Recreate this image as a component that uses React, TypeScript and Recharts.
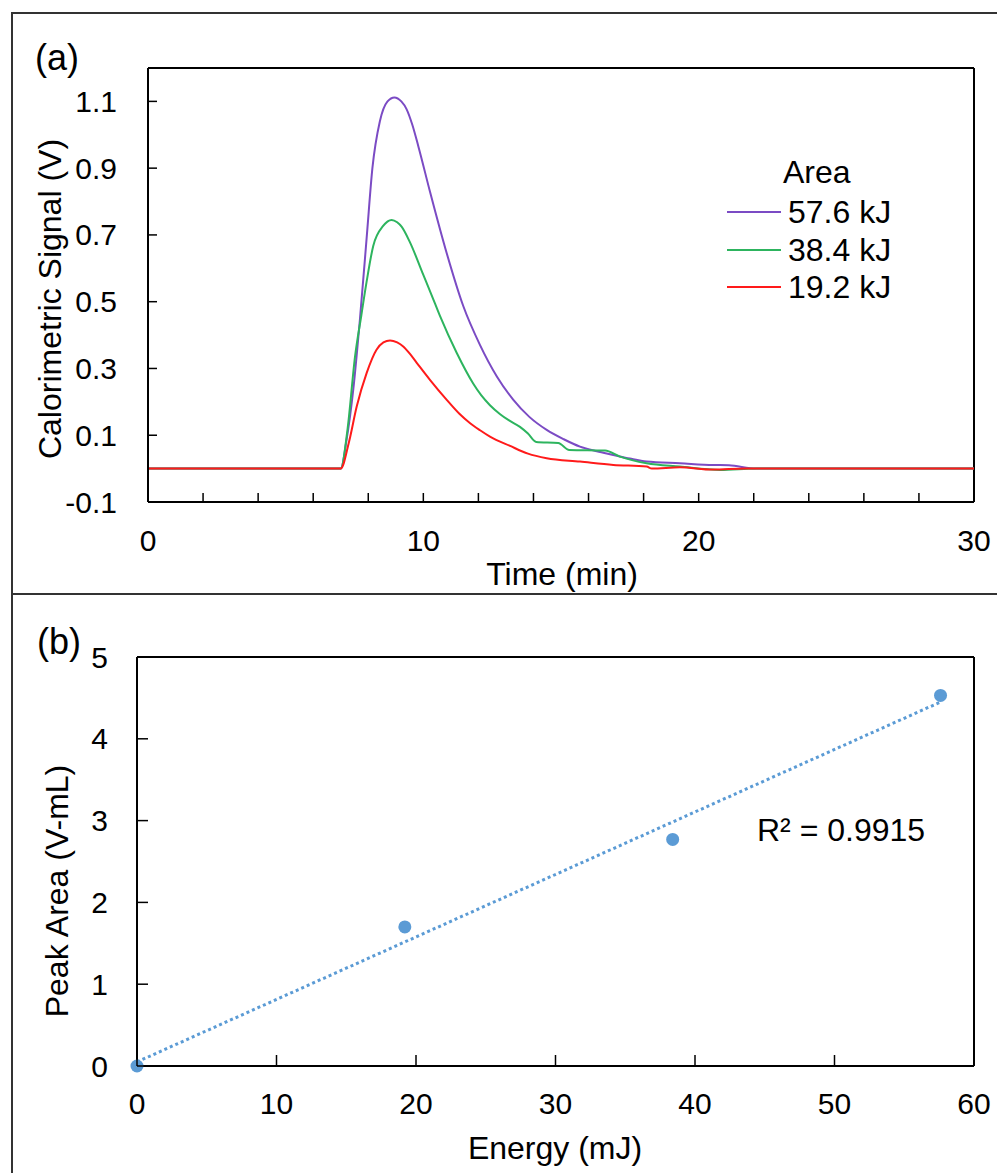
import React from 'react';
import { LineChart, Line, XAxis, YAxis, ReferenceLine, ScatterChart, Scatter } from 'recharts';

const FONT = '"Liberation Sans", Arial, Helvetica, sans-serif';

// ---------- Panel (a): calorimetric signal vs time ----------
const timeTicks = [0, 2, 4, 6, 8, 10, 12, 14, 16, 18, 20, 22, 24, 26, 28, 30];
const timeLabelTicks = [0, 10, 20, 30];
const signalTicks = [-0.1, 0.1, 0.3, 0.5, 0.7, 0.9, 1.1];
const legendTitle = 'Area';
const seriesNames = ['57.6 kJ', '38.4 kJ', '19.2 kJ'];
const seriesColors = ['#7B4BC4', '#2DB45E', '#FF1A1A'];

// [time (min), signal (V)]
const signal576: number[][] = [
  [0, 0], [7.0, 0], [7.2, 0.08], [7.46, 0.24], [7.7, 0.45], [7.95, 0.7], [8.15, 0.9], [8.42, 1.04],
  [8.7, 1.1], [8.95, 1.112], [9.2, 1.1], [9.39, 1.077], [9.6, 1.03], [9.82, 0.965], [10.24, 0.83],
  [10.85, 0.645], [11.45, 0.487], [12.06, 0.37], [12.67, 0.276], [13.27, 0.206], [13.85, 0.155],
  [14.48, 0.116], [15.1, 0.088], [15.69, 0.066], [16.3, 0.052], [16.9, 0.041], [17.5, 0.03],
  [18.11, 0.021], [19.32, 0.016], [20.53, 0.011], [21.1, 0.01], [22.1, 0], [30, 0],
];
const signal384: number[][] = [
  [0, 0], [7.0, 0], [7.25, 0.12], [7.52, 0.336], [7.75, 0.46], [7.94, 0.56], [8.18, 0.667],
  [8.54, 0.727], [8.85, 0.745], [9.05, 0.738], [9.21, 0.725], [9.52, 0.677], [10.0, 0.58],
  [10.3, 0.52], [10.6, 0.458], [11.21, 0.347], [11.81, 0.255], [12.1, 0.22], [12.42, 0.19],
  [12.79, 0.163], [13.1, 0.145], [13.51, 0.125], [13.8, 0.105], [14.1, 0.08], [14.9, 0.077],
  [15.3, 0.056], [16.6, 0.054], [17.14, 0.036], [18.11, 0.016], [19.32, 0.006], [20.78, -0.004],
  [22.1, 0], [30, 0],
];
const signal192: number[][] = [
  [0, 0], [7.0, 0], [7.3, 0.08], [7.58, 0.186], [7.94, 0.286], [8.3, 0.356], [8.55, 0.378],
  [8.79, 0.384], [9.05, 0.378], [9.27, 0.366], [9.5, 0.345], [9.76, 0.317], [10.24, 0.266],
  [10.85, 0.206], [11.3, 0.165], [11.7, 0.136], [12.06, 0.115], [12.42, 0.096], [13.15, 0.068],
  [13.8, 0.045], [14.48, 0.031], [15.69, 0.021], [16.9, 0.011], [18.11, 0.006], [18.3, 0],
  [19.32, 0.004], [20.5, -0.003], [21.7, 0], [30, 0],
];
const signalSeries = [signal576, signal384, signal192];

// ---------- Panel (b): peak area vs energy ----------
const energyTicks = [0, 10, 20, 30, 40, 50, 60];
const areaTicks = [0, 1, 2, 3, 4, 5];
const energyValues = [0, 19.2, 38.4, 57.6];
const peakAreaValues = [0, 1.7, 2.77, 4.53];
const trendEnergy = [0, 57.6];
const trendArea = [0.05, 4.45];
const r2Text = 'R\u00B2 = 0.9915';
const pointColor = '#5B9BD5';

const AXIS = { stroke: '#000', strokeWidth: 2 };

const lineData = signalSeries.map((s) => s.map(([t, v]) => ({ t, v })));
const pointData = energyValues.map((x, i) => ({ x, y: peakAreaValues[i] }));
const trendData = trendEnergy.map((x, i) => ({ x, y: trendArea[i] }));

const TimeTick = (props: any) => {
  const { x, y, payload } = props;
  const v = payload.value;
  return (
    <g>
      <line x1={x} x2={x} y1={y} y2={y - 9} stroke="#000" strokeWidth={1.5} />
      {timeLabelTicks.includes(v) && (
        <text x={x} y={y + 38} textAnchor="middle" dominantBaseline="central" fontSize={30} fontFamily={FONT} fill="#000">
          {v}
        </text>
      )}
    </g>
  );
};

const SignalTick = (props: any) => {
  const { x, y, payload } = props;
  return (
    <g>
      <line x1={x} x2={x + 9} y1={y} y2={y} stroke="#000" strokeWidth={1.5} />
      <text x={x - 31} y={y} textAnchor="end" dominantBaseline="central" fontSize={30} fontFamily={FONT} fill="#000">
        {Number(payload.value).toFixed(1)}
      </text>
    </g>
  );
};

const EnergyTick = (props: any) => {
  const { x, y, payload } = props;
  return (
    <g>
      <line x1={x} x2={x} y1={y} y2={y - 11} stroke="#000" strokeWidth={1.5} />
      <text x={x} y={y + 37} textAnchor="middle" dominantBaseline="central" fontSize={30} fontFamily={FONT} fill="#000">
        {payload.value}
      </text>
    </g>
  );
};

const AreaTick = (props: any) => {
  const { x, y, payload } = props;
  return (
    <g>
      <line x1={x} x2={x + 11} y1={y} y2={y} stroke="#000" strokeWidth={1.5} />
      <text x={x - 29} y={y} textAnchor="end" dominantBaseline="central" fontSize={30} fontFamily={FONT} fill="#000">
        {payload.value}
      </text>
    </g>
  );
};

const txt = (s: React.CSSProperties): React.CSSProperties => ({
  position: 'absolute',
  fontFamily: FONT,
  color: '#000',
  whiteSpace: 'nowrap',
  lineHeight: 1,
  ...s,
});

export default function App() {
  return (
    <div style={{ position: 'relative', width: 997, height: 1173, overflow: 'hidden', background: '#fff' }}>
      <style>{'body{margin:0}'}</style>
      {/* outer frame */}
      <div style={{ position: 'absolute', left: 11, top: 12, width: 1100, height: 1300, border: '2px solid #333' }} />
      <div style={{ position: 'absolute', left: 11, top: 593, width: 1100, height: 2, background: '#333' }} />

      {/* Panel (a) */}
      <div style={{ position: 'absolute', left: 0, top: 0 }}>
        <LineChart width={997} height={594} margin={{ top: 68, right: 23, left: 0, bottom: 0 }}>
          <XAxis
            type="number"
            dataKey="t"
            domain={[0, 30]}
            ticks={timeTicks}
            interval={0}
            height={92}
            tickSize={0}
            tickMargin={0}
            tickLine={false}
            axisLine={AXIS}
            tick={(p: any) => <TimeTick {...p} />}
          />
          <YAxis
            type="number"
            domain={[-0.1, 1.2]}
            ticks={signalTicks}
            interval={0}
            width={148}
            tickSize={0}
            tickMargin={0}
            tickLine={false}
            axisLine={AXIS}
            tick={(p: any) => <SignalTick {...p} />}
          />
          <ReferenceLine y={1.2} stroke="#000" strokeWidth={2} />
          <ReferenceLine x={30} stroke="#000" strokeWidth={2} />
          {lineData.map((d, i) => (
            <Line
              key={seriesNames[i]}
              data={d}
              dataKey="v"
              type="monotone"
              stroke={seriesColors[i]}
              strokeWidth={2}
              dot={false}
              isAnimationActive={false}
            />
          ))}
        </LineChart>
      </div>

      {/* Panel (b) */}
      <div style={{ position: 'absolute', left: 0, top: 594 }}>
        <ScatterChart width={997} height={579} margin={{ top: 63, right: 23, left: 0, bottom: 0 }}>
          <XAxis
            type="number"
            dataKey="x"
            domain={[0, 60]}
            ticks={energyTicks}
            interval={0}
            height={107}
            tickSize={0}
            tickMargin={0}
            tickLine={false}
            axisLine={AXIS}
            tick={(p: any) => <EnergyTick {...p} />}
          />
          <YAxis
            type="number"
            dataKey="y"
            domain={[0, 5]}
            ticks={areaTicks}
            interval={0}
            width={137}
            tickSize={0}
            tickMargin={0}
            tickLine={false}
            axisLine={AXIS}
            tick={(p: any) => <AreaTick {...p} />}
          />
          <ReferenceLine y={5} stroke="#000" strokeWidth={2} />
          <ReferenceLine x={60} stroke="#000" strokeWidth={2} />
          <Scatter
            data={trendData}
            line={{ stroke: pointColor, strokeWidth: 3, strokeDasharray: '3 3' }}
            shape={() => <g />}
            isAnimationActive={false}
          />
          <Scatter
            data={pointData}
            fill={pointColor}
            shape={(p: any) => <circle cx={p.cx} cy={p.cy} r={6.5} fill={pointColor} />}
            isAnimationActive={false}
          />
        </ScatterChart>
      </div>

      {/* Text overlays */}
      <div style={txt({ left: 35, top: 40, fontSize: 36 })}>(a)</div>
      <div style={txt({ left: 37, top: 624, fontSize: 36 })}>(b)</div>

      <div style={txt({ left: 50, top: 299, fontSize: 32, transform: 'translate(-50%,-50%) rotate(-90deg)' })}>
        Calorimetric Signal (V)
      </div>
      <div style={txt({ left: 562, top: 574, fontSize: 32, transform: 'translate(-50%,-50%)' })}>Time (min)</div>
      <div style={txt({ left: 57, top: 891, fontSize: 32, transform: 'translate(-50%,-50%) rotate(-90deg)' })}>
        Peak Area (V-mL)
      </div>
      <div style={txt({ left: 555, top: 1148, fontSize: 32, transform: 'translate(-50%,-50%)' })}>Energy (mJ)</div>

      {/* Legend */}
      <div style={txt({ left: 783, top: 156, fontSize: 32 })}>{legendTitle}</div>
      {seriesNames.map((n, i) => {
        const cy = 212 + i * 37.5;
        return (
          <React.Fragment key={n}>
            <div style={{ position: 'absolute', left: 727, top: cy - 1, width: 54, height: 2, background: seriesColors[i] }} />
            <div style={txt({ left: 788, top: cy - 16, fontSize: 32 })}>{n}</div>
          </React.Fragment>
        );
      })}

      <div style={txt({ left: 757, top: 814, fontSize: 32 })}>{r2Text}</div>
    </div>
  );
}
